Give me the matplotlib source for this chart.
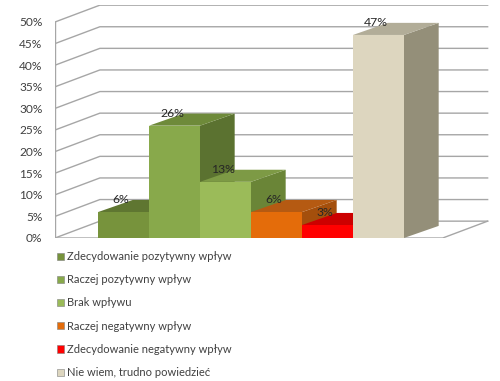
import matplotlib
matplotlib.use('Agg')
import matplotlib.pyplot as plt
from matplotlib.patches import Polygon, Patch

plt.rcParams['font.family'] = ['Lato', 'DejaVu Sans']

categories = ['Zdecydowanie pozytywny wpływ', 'Raczej pozytywny wpływ', 'Brak wpływu',
              'Raczej negatywny wpływ', 'Zdecydowanie negatywny wpływ', 'Nie wiem, trudno powiedzieć']
values = [6, 26, 13, 6, 3, 47]
front_colors = ['#77933c', '#88a94b', '#9bbb59', '#e46c0a', '#ff0000', '#ddd6bf']
top_colors = ['#5f7631', '#6e8a3a', '#7d9a45', '#b55a12', '#cc0000', '#b2ad98']
side_colors = ['#5a702d', '#5b7230', '#6a8537', '#a44f0c', '#c00000', '#948f79']
yticks = list(range(0, 55, 5))

# depth of bars and walls (data units)
bdx, bdy = 0.68, 2.8
wdx, wdy = 0.88, 3.9
x0 = -0.843
floor_right = 6.76

fig = plt.figure(figsize=(5, 3.81), dpi=100)
ax = fig.add_axes([55 / 500, 143 / 381, 8.543 * 51 / 500, 54 * 4.32 / 381])
ax.set_xlim(x0, 7.7)
ax.set_ylim(0, 54)
for s in ax.spines.values():
    s.set_visible(False)
ax.set_xticks([])
ax.set_yticks(yticks)
ax.set_yticklabels([f'{t}%' for t in yticks], fontsize=8.6, color='#404040')
ax.tick_params(axis='y', length=0, pad=9)

grid_c = '#a6a6a6'
for t in yticks:
    ax.plot([x0, x0 + wdx, floor_right + wdx], [t, t + wdy, t + wdy], color=grid_c, lw=1, zorder=1)
ax.plot([x0, x0], [0, 50], color=grid_c, lw=1, zorder=1)
ax.plot([x0, floor_right, floor_right + wdx], [0, 0, wdy], color=grid_c, lw=1, zorder=1)

for i, v in enumerate(values):
    side = [(i + 1, 0), (i + 1 + bdx, bdy), (i + 1 + bdx, v + bdy), (i + 1, v)]
    top = [(i, v), (i + 1, v), (i + 1 + bdx, v + bdy), (i + bdx, v + bdy)]
    ax.add_patch(Polygon(side, closed=True, facecolor=side_colors[i], edgecolor='none', zorder=2))
    ax.add_patch(Polygon(top, closed=True, facecolor=top_colors[i], edgecolor='none', zorder=2))
    ax.add_patch(Polygon([(i, 0), (i + 1, 0), (i + 1, v), (i, v)], closed=True,
                         facecolor=front_colors[i], edgecolor='none', zorder=2))
    ax.text(i + 0.45, v + bdy, f'{v}%', ha='center', va='center', fontsize=8.8,
            color='#262626', zorder=3)

handles = [Patch(facecolor=c, edgecolor='#808080', lw=0.4) for c in front_colors]
fig.legend(handles, categories, loc='upper left', bbox_to_anchor=(57 / 500, 1 - 251 / 381),
           frameon=False, fontsize=8, labelcolor='#404040', handlelength=0.6, handleheight=0.6,
           handletextpad=0.3, labelspacing=1.1, borderpad=0, borderaxespad=0)

fig.savefig('out.png', dpi=100)
